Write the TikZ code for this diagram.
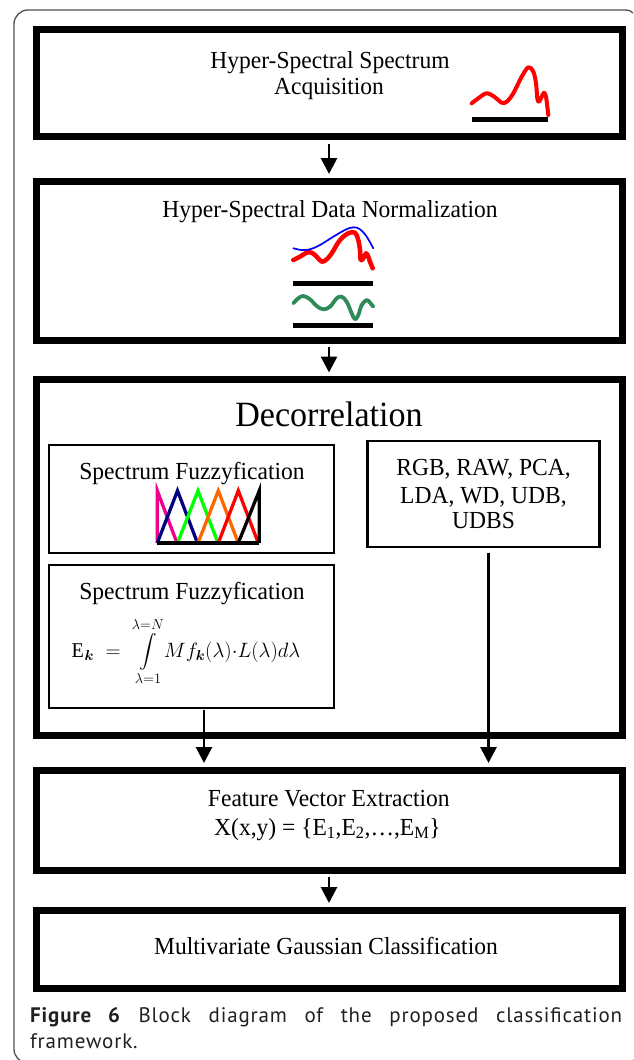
\documentclass[tikz,border=0pt]{standalone}
\usepackage{amsmath}
\usepackage{fontspec}
\setmainfont{Liberation Serif}[FakeStretch=0.96]
\newfontfamily\capfont{PT Sans}[LetterSpace=4]
\usetikzlibrary{arrows.meta,calc}
\definecolor{sgreen}{RGB}{46,139,87}
\definecolor{forange}{RGB}{255,102,0}
\definecolor{fnavy}{RGB}{0,0,128}
\definecolor{framegray}{RGB}{80,80,80}
\definecolor{captext}{RGB}{35,31,32}
\begin{document}
\begin{tikzpicture}[x=1pt,y=-1pt,
  bigbox/.style={draw,line width=7pt,inner sep=0pt,minimum width=586pt},
  smallbox/.style={draw,line width=2.2pt,inner sep=0pt},
  txt/.style={anchor=base,inner sep=0pt,font=\fontsize{24.5}{28}\selectfont},
  conn/.style={line width=2.8pt,-{Triangle[width=16pt,length=16pt]}},
  curve/.style={line cap=round,line join=round},
  fuzz/.style={line width=3.3pt,line join=miter},
  bar/.style={line width=5pt},
  captxt/.style={anchor=base west,inner sep=0pt,text=captext,font=\capfont\fontsize{21}{25}\selectfont}
]
\useasboundingbox (0,0) rectangle (633,1060);
\begin{scope}
  \clip (0,0) rectangle (633,1060);
  \draw[framegray,line width=1.3pt,rounded corners=14pt] (14,10) rectangle (639,1063);
\end{scope}

% main boxes
\node[bigbox,minimum height=107pt] (b1) at (329,83) {};
\node[bigbox,minimum height=159pt] (b2) at (329,260.5) {};
\node[bigbox,minimum height=355.5pt] (b3) at (329,557.25) {};
\node[bigbox,minimum height=100pt] (b4) at (329,820) {};
\node[bigbox,minimum height=78pt] (b5) at (329,949) {};

% inner boxes
\node[smallbox,minimum width=285pt,minimum height=107.7pt] (bA) at (191.8,498.85) {};
\node[smallbox,minimum width=285pt,minimum height=142.7pt] (bB) at (191.8,636.35) {};
\node[smallbox,minimum width=232.1pt,minimum height=106.6pt] (bC) at (483.45,494) {};

% texts
\node[txt] (t1a) at (330,68.3) {Hyper-Spectral Spectrum};
\node[txt] (t1b) at (329,94.3) {Acquisition};
\node[txt] (t2) at (330,217.3) {Hyper-Spectral Data Normalization};
\node[txt,font=\fontsize{35.5}{40}\selectfont] (t3) at (329,426) {Decorrelation};
\node[txt] (tA) at (192,479.3) {Spectrum Fuzzyfication};
\node[txt] (tB) at (192,599.3) {Spectrum Fuzzyfication};
\node[anchor=base,inner sep=0pt,font=\fontsize{21}{25}\selectfont] (fm) at (186,657)
  {$\mathrm{E}_{\boldsymbol{k}} \;=\; \mathop{\vcenter{\hbox{\scalebox{0.85}[0.8]{$\displaystyle\int$}}}}\limits_{\lambda=1}^{\lambda=N}\! Mf_{\boldsymbol{k}}(\lambda){\cdot}L(\lambda)d\lambda$};
\node[txt] (tC1) at (483.5,475) {RGB, RAW, PCA,};
\node[txt] (tC2) at (483.5,503.3) {LDA, WD, UDB,};
\node[txt] (tC3) at (483.5,528.3) {UDBS};
\node[txt] (t4a) at (328.8,806.7) {Feature Vector Extraction};
\node[txt] (t4b) at (327.5,835) {X(x,y) = \{E\textsubscript{1},E\textsubscript{2},…,E\textsubscript{M}\}};
\node[txt] (t5) at (326,954) {Multivariate Gaussian Classification};

% connectors
\coordinate (lx) at (204,0);
\coordinate (rx) at (488.5,0);
\draw[conn,shorten <=3.5pt,shorten >=3.5pt] (b1.south) -- (b2.north);
\draw[conn,shorten <=3.5pt,shorten >=3.5pt] (b2.south) -- (b3.north);
\draw[conn,shorten <=1.1pt,shorten >=3.5pt] (bB.south -| lx) -- (b4.north -| lx);
\draw[conn,shorten <=5pt,shorten >=3.5pt] (bC.south -| rx) -- (b4.north -| rx);
\draw[conn,shorten <=3.5pt,shorten >=3.5pt] (b4.south) -- (b5.north);

% icon box 1
\draw[red,line width=4pt,curve] plot[smooth,tension=0.6] coordinates {(471.7,103.3) (478.3,98.3) (486.7,93.3) (495,97.3) (501.7,102.7) (506.7,101.7) (513.3,93.3) (521.7,76.7) (528.3,67.3) (533.3,71.7) (536,83.3) (537.3,98.3) (539,101.7) (541.7,96.7) (544,92.7) (546,96.7) (547.3,106.7) (548.3,115)};
\draw[bar] (471.7,119.5) -- (548.3,119.5);

% icon box 2
\draw[red,line width=4.5pt,curve] plot[smooth,tension=0.6] coordinates {(293.3,260) (300,256.7) (306.7,252.7) (311.7,252.7) (316.7,256.7) (321.7,261.7) (326.7,259.3) (331.7,253.3) (340,240) (348.3,233.3) (355,232.7) (358.3,240) (360,250) (360.7,260) (363.3,258.3) (366,253.3) (368.3,256.7) (370,261.7) (372.7,268.3)};
\draw[blue,line width=1.7pt,curve] plot[smooth,tension=0.6] coordinates {(293.3,248.3) (301.7,250) (310,249.3) (320,245) (333.3,236.7) (345,230) (353.3,227.3) (360,229.3) (366.7,236.7) (373.3,248.3)};
\draw[bar] (293.3,283.3) -- (373.3,283.3);
\draw[sgreen,line width=3.8pt,curve] plot[smooth,tension=0.6] coordinates {(293.3,303.3) (298.3,298.3) (303.3,296) (310,299.3) (316.7,306) (323.3,309.3) (330,306.7) (336.7,298.3) (341.7,296.7) (346.7,301.7) (351.7,313.3) (355,319.3) (358.3,315) (361.7,305) (366.7,300) (370,302.7) (373.3,306.7)};
\draw[bar] (293.3,325.5) -- (373.3,325.5);

% fuzzy membership icon
\draw[fuzz,magenta] (157.3,543) -- (157.3,490.7) -- (177,543);
\draw[fuzz,fnavy] (157.3,543) -- (177.5,490.7) -- (197.5,543);
\draw[fuzz,green] (177.5,543) -- (198,490.7) -- (218,543);
\draw[fuzz,forange] (198,543) -- (218.3,490.7) -- (238.3,543);
\draw[fuzz,red] (218.3,543) -- (238.3,490.7) -- (258.3,543);
\draw[fuzz,black] (238.3,543) -- (259.3,490.7) -- (259.3,543);
\draw[line width=4pt] (157.3,543) -- (259.3,543);

% caption
\node[captxt] (cap1) at (30,1022) {\makebox[592pt][s]{\textbf{Figure 6} Block diagram of the proposed classification}};
\node[captxt] (cap2) at (30,1048) {framework.};
\end{tikzpicture}
\end{document}
